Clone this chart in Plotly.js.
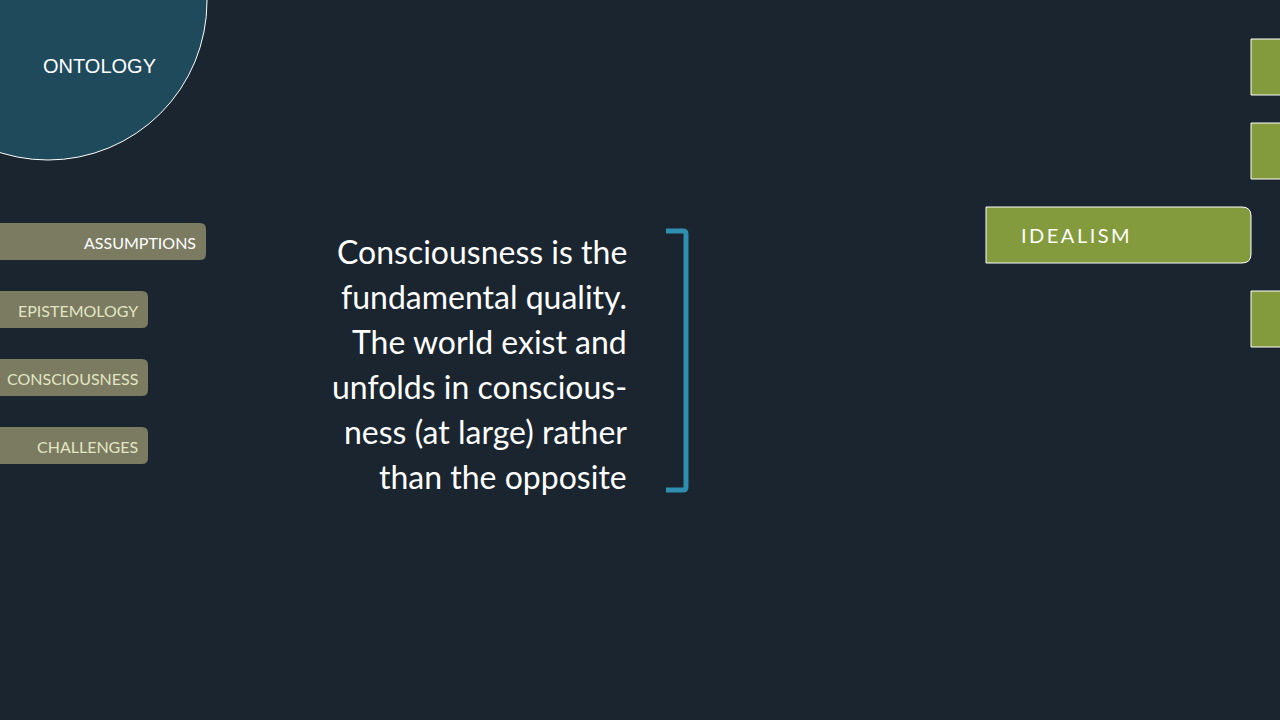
<!DOCTYPE html>
<html>
<head>
<meta charset="utf-8">
<script src="https://cdn.plot.ly/plotly-3.0.1.min.js"></script>
<style>html,body{margin:0;padding:0;background:#1a252f;}#slide{width:1280px;height:720px;}</style>
</head>
<body>
<div id="slide"></div>
<script>
// slide content
var menuLabels = ['ASSUMPTIONS', 'EPISTEMOLOGY', 'CONSCIOUSNESS', 'CHALLENGES'];
var bodyLines = [
  'Consciousness is the',
  'fundamental quality.',
  'The world exist and',
  'unfolds in conscious-',
  'ness (at large) rather',
  'than the opposite'
];
var sectionTitle = 'ONTOLOGY';
var activeItem = 'IDEALISM';

function roundRect(x0, y0, x1, y1, r, leftRound) {
  // rounded on right side, optionally left too
  var p = 'M' + (leftRound ? x0 + r : x0) + ',' + y0 +
    ' L' + (x1 - r) + ',' + y0 +
    ' Q' + x1 + ',' + y0 + ' ' + x1 + ',' + (y0 + r) +
    ' L' + x1 + ',' + (y1 - r) +
    ' Q' + x1 + ',' + y1 + ' ' + (x1 - r) + ',' + y1 +
    ' L' + (leftRound ? x0 + r : x0) + ',' + y1;
  if (leftRound) p += ' Q' + x0 + ',' + y1 + ' ' + x0 + ',' + (y1 - r) + ' L' + x0 + ',' + (y0 + r) + ' Q' + x0 + ',' + y0 + ' ' + (x0 + r) + ',' + y0;
  return p + ' Z';
}

var shapes = [];
var annotations = [];

// ontology circle
shapes.push({type: 'circle', x0: 48 - 159, x1: 48 + 159, y0: 1 - 159, y1: 1 + 159,
  fillcolor: '#1e4a5c', line: {color: '#ffffff', width: 1}});
annotations.push({x: 99, y: 66, text: sectionTitle, showarrow: false,
  font: {family: 'Liberation Sans, Arial', size: 20, color: '#ffffff'}});

// left menu
var menuTops = [223, 291, 359, 427];
menuLabels.forEach(function (lab, i) {
  var right = i === 0 ? 206 : 148;
  var top = menuTops[i];
  shapes.push({type: 'path', path: roundRect(-10, top, right, top + 37, 6, false),
    fillcolor: '#7b7b62', line: {width: 0}});
  annotations.push({x: right - 8, y: top + 19, xanchor: 'right', text: lab, showarrow: false,
    font: {family: 'Lato, Open Sans', size: 16, color: i === 0 ? '#ffffff' : '#e2e6c4'}});
});

// body text
bodyLines.forEach(function (line, i) {
  annotations.push({x: 629, y: 251 + i * 45, xanchor: 'right', text: line, showarrow: false,
    font: {family: 'Lato, Open Sans', size: 32, color: '#ffffff'}});
});

// bracket
shapes.push({type: 'path', path: 'M666,231 L683,231 Q686,231 686,234 L686,487 Q686,490 683,490 L666,490',
  line: {color: '#2e8fb0', width: 5}});

// idealism box
shapes.push({type: 'path', path: roundRect(986, 207, 1251, 263, 9, false),
  fillcolor: '#839b3c', line: {color: '#ffffff', width: 1}});
annotations.push({x: 1019, y: 235, xanchor: 'left', text: activeItem.split('').join('\u2009'), showarrow: false,
  font: {family: 'Lato, Open Sans', size: 20, color: '#ffffff'}});

// right edge boxes
[39, 123, 291].forEach(function (top) {
  shapes.push({type: 'rect', x0: 1251, x1: 1290, y0: top, y1: top + 56,
    fillcolor: '#839b3c', line: {color: '#ffffff', width: 1}});
});

var layout = {
  width: 1280, height: 720,
  margin: {l: 0, r: 0, t: 0, b: 0},
  paper_bgcolor: '#1a252f', plot_bgcolor: '#1a252f',
  xaxis: {range: [0, 1280], visible: false, fixedrange: true},
  yaxis: {range: [720, 0], visible: false, fixedrange: true},
  shapes: shapes, annotations: annotations, showlegend: false
};

Plotly.newPlot('slide', [], layout, {displayModeBar: false, staticPlot: true});
</script>
</body>
</html>
